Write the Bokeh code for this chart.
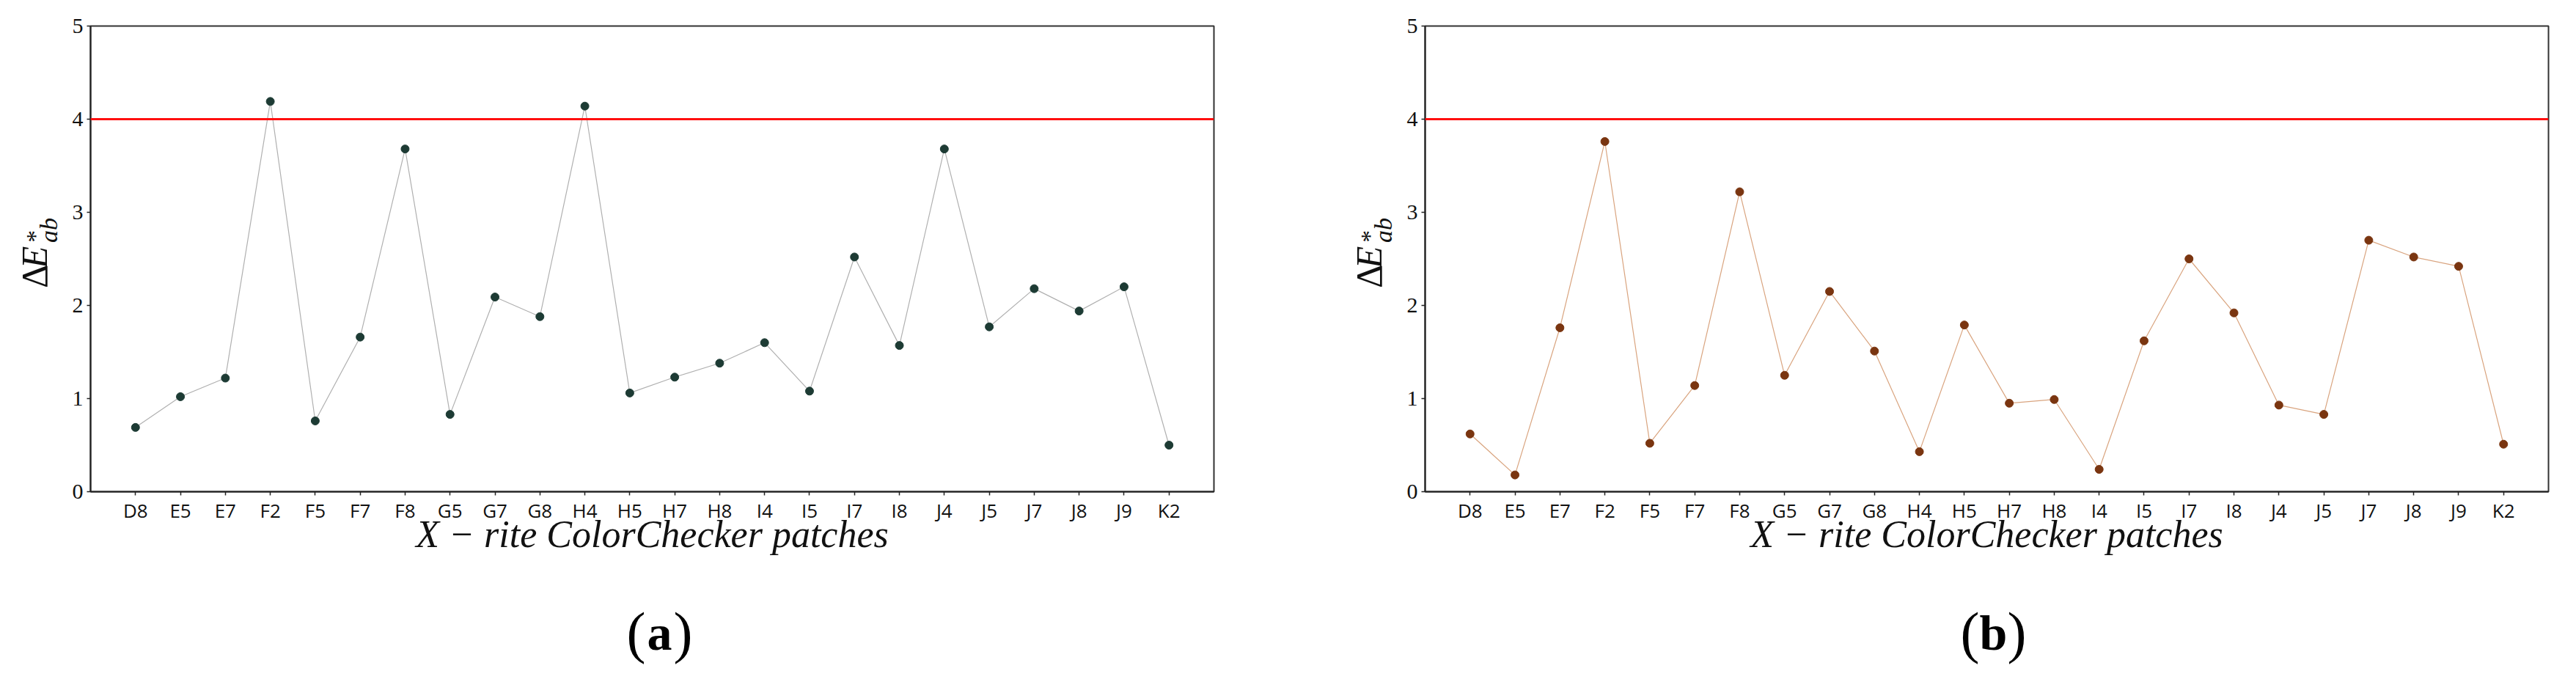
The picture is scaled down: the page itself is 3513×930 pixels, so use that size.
from math import pi
from bokeh.plotting import figure
from bokeh.models import Range1d, FixedTicker, Span, Label
from bokeh.layouts import row, column
from bokeh.embed import file_html
from bokeh.resources import INLINE

# ---------------- data ----------------
patches = ["D8", "E5", "E7", "F2", "F5", "F7", "F8", "G5", "G7", "G8", "H4", "H5",
           "H7", "H8", "I4", "I5", "I7", "I8", "J4", "J5", "J7", "J8", "J9", "K2"]
delta_e_a = [0.69, 1.02, 1.22, 4.19, 0.76, 1.66, 3.68, 0.83, 2.09, 1.88, 4.14, 1.06,
             1.23, 1.38, 1.60, 1.08, 2.52, 1.57, 3.68, 1.77, 2.18, 1.94, 2.20, 0.50]
delta_e_b = [0.62, 0.18, 1.76, 3.76, 0.52, 1.14, 3.22, 1.25, 2.15, 1.51, 0.43, 1.79,
             0.95, 0.99, 0.24, 1.62, 2.50, 1.92, 0.93, 0.83, 2.70, 2.52, 2.42, 0.51]
threshold = 4.0
y_ticks = [0, 1, 2, 3, 4, 5]
captions = ["a", "b"]
x_title = "X \u2212 rite ColorChecker patches"

# ---------------- layout constants (page pixels) ----------------
FRAME_W = 1532
FRAME_H = 635
TOP = 35
BOTTOM = 110
ROW_H = TOP + FRAME_H + BOTTOM     # 780
CAP_H = 140
X0, X1 = -1.0, len(patches)
Y0, Y1 = 0.0, 5.0
SERIF = "Liberation Serif"
INK = "#111111"


def blank(width, height):
    """axis-less figure whose data space equals its pixel space (y downwards)"""
    f = figure(width=width, height=height, x_range=Range1d(0, width),
               y_range=Range1d(height, 0), x_axis_type=None, y_axis_type=None,
               min_border=0, outline_line_color=None, output_backend="svg",
               toolbar_location=None, background_fill_color="white",
               border_fill_color="white")
    f.xgrid.visible = False
    f.ygrid.visible = False
    return f


def lab(f, x, y, text, **kw):
    opts = dict(x=x, y=y, text=text, text_font=SERIF, text_color=INK,
                text_baseline="alphabetic", text_align="center")
    opts.update(kw)
    f.add_layout(Label(**opts))


def vlab(f, base_x, centre_y, text, size, **kw):
    """rotated (bottom-to-top) text; anchor compensated for the rotation offset"""
    lab(f, base_x - 0.48 * size, centre_y + 0.65 * size, text, angle=pi / 2,
        text_font_size=f"{size}px", **kw)


def ylabel_fig(width, baseline_x):
    f = blank(width, ROW_H)
    vlab(f, baseline_x, 387, "\u0394", 50)
    vlab(f, baseline_x, 355, "E", 50, text_font_style="italic")
    vlab(f, baseline_x - 7, 330, "*", 34)
    vlab(f, baseline_x + 12, 320, "ab", 34, text_font_style="italic")
    return f


def make_panel(values, marker_color, line_color, border_left, border_right):
    p = figure(frame_width=FRAME_W, frame_height=FRAME_H,
               min_border_left=border_left, min_border_right=border_right,
               min_border_top=TOP, min_border_bottom=BOTTOM,
               x_range=Range1d(X0, X1), y_range=Range1d(Y0, Y1),
               output_backend="svg", toolbar_location=None,
               background_fill_color="white", border_fill_color="white")
    p.xgrid.visible = False
    p.ygrid.visible = False
    p.outline_line_color = "#333333"
    p.outline_line_width = 2

    xs = list(range(len(patches)))

    p.xaxis.ticker = FixedTicker(ticks=xs)
    p.xaxis.major_label_overrides = {i: name for i, name in enumerate(patches)}
    p.xaxis.major_label_text_font = "Open Sans"
    p.xaxis.major_label_text_font_size = "26px"
    p.xaxis.major_label_text_color = INK
    p.xaxis.major_label_standoff = 2
    p.xaxis.axis_label = x_title
    p.xaxis.axis_label_text_font = SERIF
    p.xaxis.axis_label_text_font_style = "italic"
    p.xaxis.axis_label_text_font_size = "52px"
    p.xaxis.axis_label_text_color = INK
    p.xaxis.axis_label_standoff = -17

    p.yaxis.ticker = FixedTicker(ticks=y_ticks)
    p.yaxis.major_label_text_font = SERIF
    p.yaxis.major_label_text_font_size = "30px"
    p.yaxis.major_label_text_color = INK
    p.yaxis.major_label_standoff = 5

    for ax in (p.xaxis, p.yaxis):
        ax.minor_tick_line_color = None
        ax.major_tick_in = 0
        ax.major_tick_out = 5
        ax.major_tick_line_width = 1.5
        ax.axis_line_width = 2
        ax.axis_line_color = "#222222"
        ax.major_tick_line_color = "#222222"

    p.add_layout(Span(location=threshold, dimension="width",
                      line_color="#ff1010", line_width=3))

    p.line(xs, values, line_color=line_color, line_width=1.2)
    p.scatter(xs, values, size=11, fill_color=marker_color, line_color=marker_color)
    return p


# left panel: y-label strip 0..90, frame 123..1655, figure ends 1756
ylab1 = ylabel_fig(90, 70)
p1 = make_panel(delta_e_a, "#1d3b34", "#b0b0b0", 33, 101)
# right panel: y-label strip 1756..1905, frame 1943..3475, figure ends 3511
ylab2 = ylabel_fig(149, 1890 - 1756)
p2 = make_panel(delta_e_b, "#7a3510", "#d9a47f", 38, 36)

# captions (a) / (b)
TOTAL_W = 90 + (33 + FRAME_W + 101) + 149 + (38 + FRAME_W + 36)
cap = blank(TOTAL_W, CAP_H)
for centre, letter in zip([899, 2718], captions):
    base = 862 - ROW_H
    lab(cap, centre - 19, base, "(", text_align="right", text_font_size="78px",
        text_color="black")
    lab(cap, centre, base, letter, text_font_style="bold", text_font_size="68px",
        text_color="black")
    lab(cap, centre + 19, base, ")", text_align="left", text_font_size="78px",
        text_color="black")

layout = column(row(ylab1, p1, ylab2, p2), cap)
open("out.html", "w").write(file_html(layout, INLINE))
